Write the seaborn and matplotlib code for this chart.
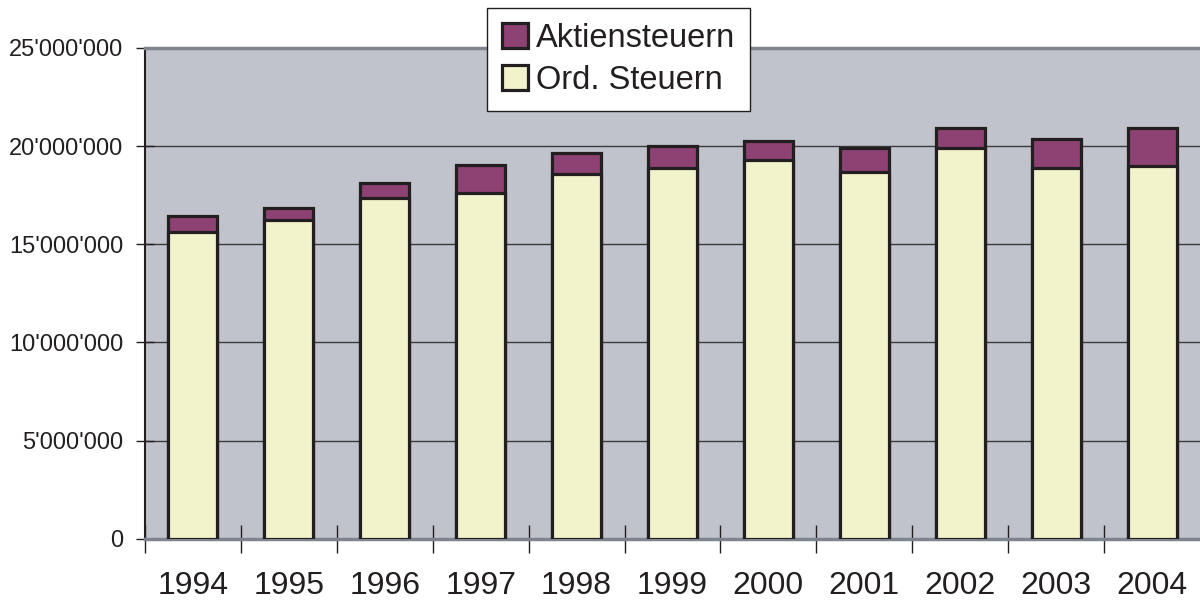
import matplotlib
matplotlib.use("Agg")
import matplotlib.pyplot as plt
import seaborn as sns
import pandas as pd
import numpy as np
from matplotlib.ticker import FuncFormatter, MultipleLocator, FixedLocator

years = ["1994", "1995", "1996", "1997", "1998", "1999", "2000", "2001", "2002", "2003", "2004"]
ord_steuern = [15.62e6, 16.24e6, 17.35e6, 17.60e6, 18.59e6, 18.91e6, 19.30e6, 18.69e6, 19.93e6, 18.91e6, 19.01e6]
aktiensteuern = [0.83e6, 0.63e6, 0.78e6, 1.45e6, 1.08e6, 1.12e6, 0.95e6, 1.24e6, 1.00e6, 1.43e6, 1.92e6]

df = pd.DataFrame({"Jahr": years, "Ord": ord_steuern, "Aktien": aktiensteuern})
df["Total"] = df["Ord"] + df["Aktien"]

sns.set_theme(style="white")
plt.rcParams["font.family"] = ["Liberation Sans", "DejaVu Sans"]

fig = plt.figure(figsize=(12, 6), dpi=100)
ax = fig.add_axes([145/1200, 1 - 538.7/600, 1 - 145/1200, (538.7 - 48)/600])
ax.set_facecolor("#C0C3CB")

edge = "#231F20"
sns.barplot(data=df, x="Jahr", y="Total", color="#8E4173", saturation=1, width=0.51,
            edgecolor=edge, linewidth=2.3, label="Aktiensteuern", ax=ax, zorder=3)
sns.barplot(data=df, x="Jahr", y="Ord", color="#F2F3CA", saturation=1, width=0.51,
            edgecolor=edge, linewidth=2.3, label="Ord. Steuern", ax=ax, zorder=4)

ax.set_xlim(-0.5, 10.5)
ax.set_ylim(0, 25e6)
ax.yaxis.set_major_locator(MultipleLocator(5e6))
ax.yaxis.set_major_formatter(FuncFormatter(lambda v, p: f"{int(v):,}".replace(",", "'")))
ax.grid(axis="y", color="#3A3A3A", linewidth=1.0, zorder=1)
ax.set_axisbelow(True)

ax.set_xlabel("")
ax.set_ylabel("")
ax.tick_params(axis="x", which="major", length=0, pad=23, labelsize=23, labelcolor="#231F20")
ax.xaxis.set_minor_locator(FixedLocator(np.arange(-0.5, 10.0, 1.0)))
ax.tick_params(axis="x", which="minor", direction="inout", length=20, width=1.0, color="#231F20", bottom=True)
ax.tick_params(axis="y", which="major", direction="inout", length=13, width=1.0, color="#231F20",
               left=True, pad=9, labelsize=17, labelcolor="#231F20")

ax.spines["right"].set_visible(False)
ax.spines["left"].set_color("#231F20")
ax.spines["left"].set_linewidth(1.5)
ax.spines["top"].set_color("#80848C")
ax.spines["top"].set_linewidth(2.5)
ax.spines["bottom"].set_color("#80848C")
ax.spines["bottom"].set_linewidth(2.5)

leg = ax.legend(loc="upper left", bbox_to_anchor=(487/1200, 1 - 8/600), bbox_transform=fig.transFigure,
                frameon=True, fancybox=False, framealpha=1, edgecolor="#231F20", facecolor="white",
                fontsize=23.5, handlelength=0.8, handleheight=0.8, handletextpad=0.25,
                labelspacing=0.35, borderpad=0.45, borderaxespad=0)
leg.get_frame().set_linewidth(1.0)
for t in leg.get_texts():
    t.set_color("#231F20")

fig.savefig("out.png", dpi=100, facecolor="white")
